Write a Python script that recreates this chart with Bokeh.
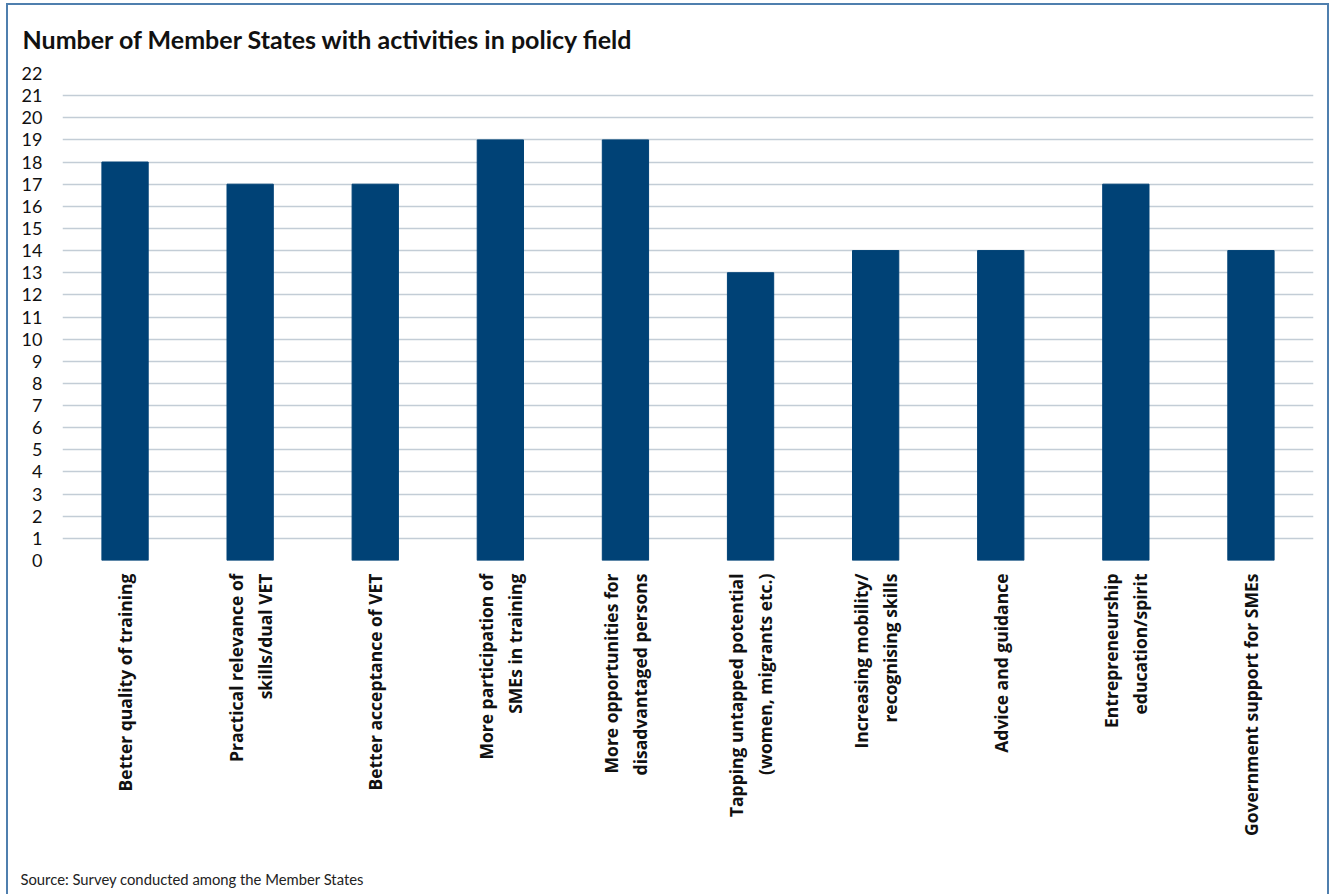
from bokeh.plotting import figure
from bokeh.models import FixedTicker, Title, ColumnDataSource, Range1d
from bokeh.layouts import column
from bokeh.core.properties import value
from bokeh.embed import file_html
from bokeh.resources import INLINE
import math

categories = [
    "Better quality of training",
    "Practical relevance of\nskills/dual VET",
    "Better acceptance of VET",
    "More participation of\nSMEs in training",
    "More opportunities for\ndisadvantaged persons",
    "Tapping untapped potential\n(women, migrants etc.)",
    "Increasing mobility/\nrecognising skills",
    "Advice and guidance",
    "Entrepreneurship\neducation/spirit",
    "Government support for SMEs",
]
values = [18, 17, 17, 19, 19, 13, 14, 14, 17, 14]
y_ticks = list(range(0, 23))

W = 1319
p = figure(
    x_range=categories, y_range=(0, 22),
    width=W, height=567,
    output_backend="svg", toolbar_location=None,
    min_border_left=54, min_border_right=14, min_border_top=67, min_border_bottom=12,
)

src_data = ColumnDataSource(dict(cat=categories, val=values, anchor=[0] * len(categories)))
p.vbar(x="cat", top="val", width=0.37, color="#004276", source=src_data)

p.title.text = "Number of Member States with activities in policy field"
p.title.text_font = "Lato"
p.title.text_font_size = "25px"
p.title.text_font_style = "bold"
p.title.text_color = "#111111"
p.title.offset = -40
p.title.standoff = 36
p.title.vertical_align = "top"

p.outline_line_color = None
p.xgrid.grid_line_color = None
p.ygrid.grid_line_color = "#c3cdd6"
p.ygrid.grid_line_width = 1.5

p.yaxis.ticker = FixedTicker(ticks=y_ticks)
p.yaxis.axis_line_color = None
p.yaxis.major_tick_line_color = None
p.yaxis.minor_tick_line_color = None
p.yaxis.major_label_text_font = "Lato"
p.yaxis.major_label_text_font_size = "18px"
p.yaxis.major_label_text_color = "#111111"
p.yaxis.major_label_standoff = 14
p.xaxis.visible = False

# category labels panel
p2 = figure(
    x_range=p.x_range, y_range=Range1d(-1, 0),
    width=W, height=322,
    output_backend="svg", toolbar_location=None,
    min_border_left=54, min_border_right=14, min_border_top=1, min_border_bottom=0,
)
p2.text(x="cat", y="anchor", text="cat", source=src_data,
        angle=math.pi / 2, text_align="right", text_baseline="middle",
        text_font=value("Open Sans"), text_font_size="17.5px", text_font_style="bold",
        text_color="#111111", text_line_height=1.2)
p2.xaxis.visible = False
p2.yaxis.visible = False
p2.grid.visible = False
p2.outline_line_color = None

src = Title(text="Source: Survey conducted among the Member States", align="left",
            text_font="Lato", text_font_size="14.8px", text_font_style="normal",
            text_color="#222222", offset=-42, standoff=14)
p2.add_layout(src, "below")

layout = column(p, p2, spacing=0)
layout.styles = {"margin-left": "6px", "margin-top": "3px",
                 "border-left": "2px solid #4f7fae", "border-top": "2px solid #4f7fae",
                 "border-right": "2px solid #4f7fae"}

open("out.html", "w").write(file_html(layout, INLINE))
